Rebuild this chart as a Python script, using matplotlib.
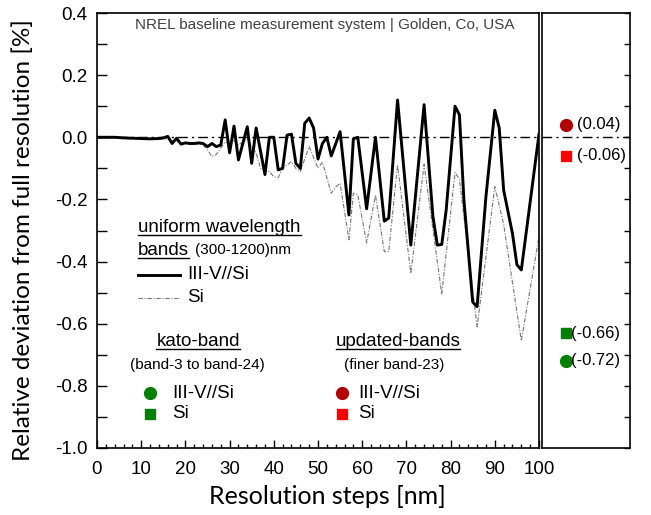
import numpy as np
import matplotlib
matplotlib.use('Agg')
import matplotlib.pyplot as plt
from matplotlib.lines import Line2D

plt.rcParams['font.family'] = ['Liberation Sans', 'DejaVu Sans']
plt.rcParams['axes.unicode_minus'] = False

# uniform wavelength bands, III-V//Si
x_3j = [0, 2, 4, 6, 8, 10, 12, 14, 15, 16, 17, 18, 19, 20, 21, 22, 23, 24, 25, 26, 27, 28,
        29, 30, 31, 32, 34, 35, 36, 38, 39, 40, 41, 42, 43, 44, 45, 46, 47, 48, 49, 50,
        51, 52, 53, 55, 57, 58, 59, 61, 63, 65, 66, 68, 71, 74, 76, 77, 78, 79, 81, 82,
        83, 85, 86, 88, 90, 91, 92, 93, 94, 95, 96, 100]
y_3j = [0.0, 0.0, 0.0, -0.002, -0.003, -0.004, -0.005, -0.004, -0.002, 0.003, -0.02, -0.003,
        -0.022, -0.018, -0.02, -0.02, -0.018, -0.02, -0.03, -0.02, -0.03, -0.025,
        0.056, -0.05, 0.036, -0.073, 0.034, -0.084, 0.03, -0.12, 0.0, 0.0, -0.105, -0.1,
        0.007, 0.01, -0.084, -0.1, 0.045, 0.062, 0.03, -0.07, -0.02, 0.0, -0.06, 0.018,
        -0.25, -0.005, 0.0, -0.23, 0.0, -0.27, -0.26, 0.12, -0.347, 0.105, -0.255, -0.347,
        -0.345, -0.234, 0.1, 0.072, -0.2, -0.53, -0.545, -0.19, 0.087, 0.03, -0.17, -0.24,
        -0.31, -0.41, -0.427, 0.01]

# uniform wavelength bands, Si
x_si = [0, 5, 10, 15, 17, 20, 22, 24, 25, 26, 27, 28, 29, 30, 31, 32, 34, 36, 37, 38, 39,
        40, 41, 42, 44, 45, 46, 48, 50, 51, 53, 54, 55, 57, 58, 59, 61, 63, 65, 66, 68,
        71, 74, 78, 81, 82, 86, 90, 92, 96, 100]
y_si = [0.0, -0.002, -0.005, -0.005, -0.01, -0.02, -0.02, -0.025, -0.04, -0.062, -0.055,
        -0.035, -0.014, -0.02, -0.01, -0.025, -0.005, -0.05, -0.1, -0.11, -0.11, -0.127,
        -0.13, -0.1, -0.078, -0.1, -0.11, -0.03, -0.1, -0.08, -0.18, -0.16, -0.148, -0.33,
        -0.18, -0.185, -0.34, -0.186, -0.368, -0.368, -0.089, -0.438, -0.087, -0.505,
        -0.113, -0.135, -0.61, -0.159, -0.28, -0.655, -0.32]

# single results (right panel)
upd_3j, upd_si = 0.04, -0.06
kato_si, kato_3j = -0.63, -0.72
upd_3j_lbl, upd_si_lbl = '(0.04)', '(-0.06)'
kato_si_lbl, kato_3j_lbl = '(-0.66)', '(-0.72)'

y_ticks = [-1.0, -0.8, -0.6, -0.4, -0.2, 0.0, 0.2, 0.4]

dark_red = '#b00000'
red = '#ff0000'
green = '#008000'

fig = plt.figure(figsize=(6.51, 5.15), dpi=100)
ax = fig.add_axes([97/651, 1-448/515, 442/651, 435/515])
ax2 = fig.add_axes([542/651, 1-448/515, 88/651, 435/515])

ax.plot(x_3j, y_3j, color='black', lw=2.1, zorder=3)
ax.plot(x_si, y_si, color='#777777', lw=0.8, ls=(0, (4, 1.5, 1, 1.5)), zorder=2)
ax.axhline(0, color='black', lw=1.0, ls=(0, (7, 3, 1.5, 3)), zorder=1)

ax.set_xlim(0, 100)
ax.set_ylim(-1.0, 0.4)
ax.set_xticks(np.arange(0, 101, 10))
ax.set_xticks(np.arange(0, 101, 2), minor=True)
ax.set_yticks(y_ticks)
ax.set_yticks(np.round(np.arange(-1.0, 0.41, 0.1), 1), minor=True)
ax.set_yticklabels(['%.1f' % v for v in y_ticks])
ax.tick_params(axis='both', which='both', direction='in', labelsize=13.5,
               top=False, right=False)
ax.tick_params(axis='y', which='both', length=7, width=1, pad=7)
ax.tick_params(axis='x', which='major', length=6, width=1, pad=9)
ax.tick_params(axis='x', which='minor', length=3, width=1)
for s in ax.spines.values():
    s.set_linewidth(1.2)

ax.text(51.5, 0.36, 'NREL baseline measurement system | Golden, Co, USA',
        ha='center', va='center', fontsize=11, color='#404040')

# right panel
ax2.set_xlim(0, 1)
ax2.set_ylim(-1.0, 0.4)
ax2.axhline(0, color='black', lw=1.0, ls=(0, (7, 3, 1.5, 3)))
ax2.plot(0.27, upd_3j, 'o', color=dark_red, ms=8.5)
ax2.plot(0.27, upd_si, 's', color=red, ms=7)
ax2.plot(0.27, kato_si, 's', color=green, ms=7)
ax2.plot(0.27, kato_3j, 'o', color=green, ms=8.5)
ax2.text(0.40, upd_3j, upd_3j_lbl, va='center', fontsize=12)
ax2.text(0.40, upd_si, upd_si_lbl, va='center', fontsize=12)
ax2.text(0.33, kato_si, kato_si_lbl, va='center', fontsize=12)
ax2.text(0.33, kato_3j, kato_3j_lbl, va='center', fontsize=12)
ax2.set_xticks([])
ax2.set_yticks(np.round(np.arange(-1.0, 0.41, 0.1), 1))
ax2.tick_params(axis='y', direction='in', left=False, right=True, labelleft=False,
                length=4, width=1)
for s in ax2.spines.values():
    s.set_linewidth(1.2)

# in-plot legend
def underline(t):
    fig.canvas.draw()
    bb = t.get_window_extent().transformed(fig.transFigure.inverted())
    fig.add_artist(Line2D([bb.x0, bb.x1], [bb.y0 + 0.002, bb.y0 + 0.002],
                          transform=fig.transFigure, color='black', lw=1.0))

fs = 13.5
t = ax.text(9.3, -0.289, 'uniform wavelength', va='center', fontsize=fs)
underline(t)
t = ax.text(9.3, -0.363, 'bands', va='center', fontsize=fs)
underline(t)
ax.text(22.2, -0.363, '(300-1200)nm', va='center', fontsize=11)
ax.plot([9.3, 18.8], [-0.443, -0.443], color='black', lw=2.1)
ax.text(20.4, -0.443, 'III-V//Si', va='center', fontsize=fs)
ax.plot([9.3, 18.8], [-0.517, -0.517], color='#777777', lw=0.8, ls=(0, (4, 1.5, 1, 1.5)))
ax.text(20.4, -0.517, 'Si', va='center', fontsize=fs)

t = ax.text(22.9, -0.656, 'kato-band', ha='center', va='center', fontsize=fs)
underline(t)
ax.text(22.6, -0.733, '(band-3 to band-24)', ha='center', va='center', fontsize=11)
ax.plot(12.0, -0.823, 'o', color=green, ms=8.5)
ax.text(17.0, -0.823, 'III-V//Si', va='center', fontsize=fs)
ax.plot(12.0, -0.89, 's', color=green, ms=7)
ax.text(17.0, -0.89, 'Si', va='center', fontsize=fs)

t = ax.text(68.1, -0.656, 'updated-bands', ha='center', va='center', fontsize=fs)
underline(t)
ax.text(67.2, -0.733, '(finer band-23)', ha='center', va='center', fontsize=11)
ax.plot(55.4, -0.823, 'o', color=dark_red, ms=8.5)
ax.text(59.0, -0.823, 'III-V//Si', va='center', fontsize=fs)
ax.plot(55.4, -0.89, 's', color=red, ms=7)
ax.text(59.0, -0.89, 'Si', va='center', fontsize=fs)

fig.text(327/651, 1-497/515, 'Resolution steps [nm]', ha='center', va='center',
         fontsize=18, family=['Lato', 'DejaVu Sans'])
fig.text(23/651, 1-240/515, 'Relative deviation from full resolution [%]', ha='center',
         va='center', rotation=90, fontsize=17.5, family=['Lato', 'DejaVu Sans'])

fig.savefig('out.png', dpi=100)
